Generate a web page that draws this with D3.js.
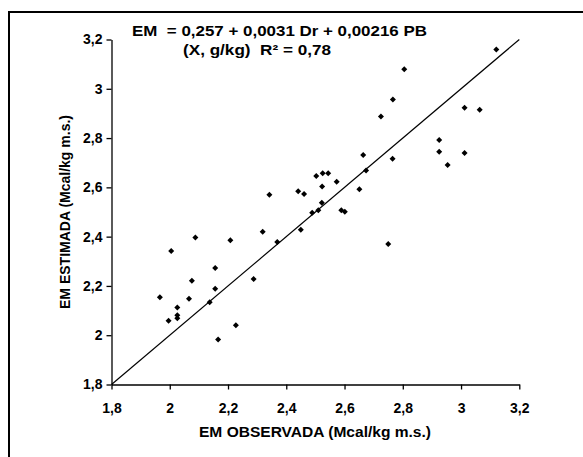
<!DOCTYPE html>
<html>
<head>
<meta charset="utf-8">
<script src="https://cdn.jsdelivr.net/npm/d3@7"></script>
<style>
    body { margin: 0; background: #fff; }
    text { font-family: Arial, "Liberation Sans", sans-serif; font-weight: bold; fill: #000; white-space: pre; }
</style>
</head>
<body>
<div id="chart"></div>
<script>
// EM observada vs EM estimada (Mcal/kg m.s.)
var observada = [
    1.966, 2.005, 1.996, 2.026, 2.026, 2.026, 2.066, 2.076, 2.088, 2.137,
    2.156, 2.156, 2.166, 2.208, 2.227, 2.288, 2.319, 2.369, 2.450, 2.461,
    2.489, 2.510, 2.522, 2.589, 2.601, 2.342, 2.441, 2.523, 2.503, 2.525,
    2.544, 2.573, 2.651, 3.121, 2.805, 2.766, 2.725, 3.012, 3.064, 2.925,
    2.925, 3.012, 2.954, 2.664, 2.765, 2.674, 2.750
];
var estimada = [
    2.154, 2.342, 2.059, 2.112, 2.081, 2.069, 2.148, 2.221, 2.397, 2.134,
    2.273, 2.189, 1.983, 2.385, 2.040, 2.228, 2.420, 2.378, 2.428, 2.573,
    2.497, 2.507, 2.538, 2.507, 2.501, 2.570, 2.584, 2.603, 2.646, 2.657,
    2.657, 2.623, 2.592, 3.159, 3.079, 2.957, 2.888, 2.923, 2.915, 2.792,
    2.744, 2.739, 2.691, 2.731, 2.716, 2.668, 2.370
];
var tickValues = [1.8, 2, 2.2, 2.4, 2.6, 2.8, 3, 3.2];
var equationLines = ['EM  = 0,257 + 0,0031 Dr + 0,00216 PB', '(X, g/kg)  R\u00B2 = 0,78'];
var xTitle = 'EM OBSERVADA (Mcal/kg m.s.)';
var yTitle = 'EM ESTIMADA (Mcal/kg m.s.)';

var width = 583, height = 457;
var margin = {left: 111.5, right: 63.7, top: 39.5, bottom: 72.5};

var svg = d3.select('#chart').append('svg')
    .attr('width', width)
    .attr('height', height);

// frame (only top and left edges are in the picture)
svg.append('path')
    .attr('d', 'M9,457V12H583')
    .attr('fill', 'none')
    .attr('stroke', '#000')
    .attr('stroke-width', 2);

var x = d3.scaleLinear().domain([1.8, 3.2])
    .range([margin.left, width - margin.right]);
var y = d3.scaleLinear().domain([1.8, 3.2])
    .range([height - margin.bottom, margin.top]);

function fmt(d) {
    return String(+d.toFixed(1)).replace('.', ',');
}

var xAxis = svg.append('g')
    .attr('transform', 'translate(0,' + y(1.8) + ')')
    .call(d3.axisBottom(x).tickValues(tickValues).tickFormat(fmt)
          .tickSize(5).tickSizeOuter(0).tickPadding(14));
var yAxis = svg.append('g')
    .attr('transform', 'translate(' + x(1.8) + ',0)')
    .call(d3.axisLeft(y).tickValues(tickValues).tickFormat(fmt)
          .tickSize(5).tickSizeOuter(0).tickPadding(4));

[xAxis, yAxis].forEach(function(a) {
    a.selectAll('path, line').attr('stroke', '#000').attr('stroke-width', 1.3);
    a.selectAll('text').attr('font-size', 14).attr('font-family', null);
});

// 1:1 line
svg.append('line')
    .attr('x1', x(1.8)).attr('y1', y(1.8))
    .attr('x2', x(3.2)).attr('y2', y(3.2))
    .attr('stroke', '#000')
    .attr('stroke-width', 1.2);

var diamond = d3.symbol().type(d3.symbolSquare).size(18);
svg.append('g').selectAll('path')
    .data(observada.map(function(v, i) { return [v, estimada[i]]; }))
    .join('path')
    .attr('d', diamond)
    .attr('transform', function(d) {
        return 'translate(' + x(d[0]) + ',' + y(d[1]) + ') rotate(45)';
    })
    .attr('fill', '#000');

svg.append('text')
    .attr('x', 132).attr('y', 36)
    .attr('font-size', 15)
    .attr('textLength', 295)
    .attr('lengthAdjust', 'spacingAndGlyphs')
    .text(equationLines[0]);
svg.append('text')
    .attr('x', 183).attr('y', 55)
    .attr('font-size', 15)
    .attr('textLength', 148)
    .attr('lengthAdjust', 'spacingAndGlyphs')
    .text(equationLines[1]);

svg.append('text')
    .attr('x', 199)
    .attr('y', 437)
    .attr('font-size', 14)
    .attr('textLength', 232)
    .attr('lengthAdjust', 'spacingAndGlyphs')
    .text(xTitle);

svg.append('text')
    .attr('transform', 'translate(70,212) rotate(-90)')
    .attr('text-anchor', 'middle')
    .attr('font-size', 14)
    .text(yTitle);
</script>
</body>
</html>
